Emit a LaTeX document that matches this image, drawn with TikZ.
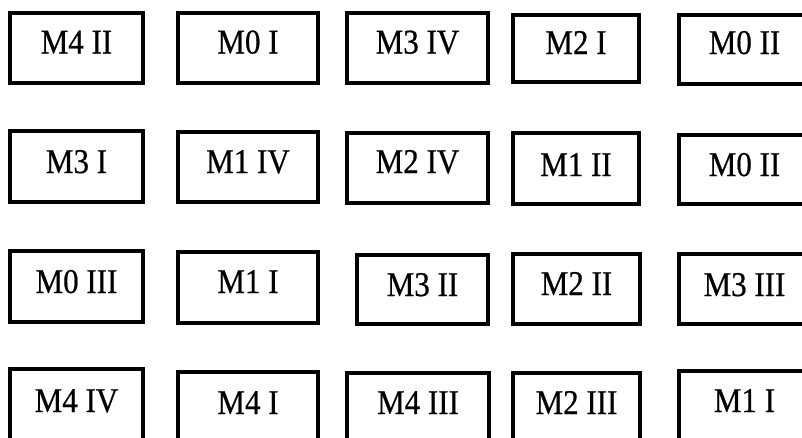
\documentclass[tikz,border=0pt]{standalone}
\usepackage{fontspec}
\setmainfont{Liberation Serif}[FakeBold=0.6]
\tikzset{
  cell/.style={draw=black, line width=3.6pt, rectangle, inner sep=0pt,
    text height=24pt, font=\fontsize{31}{31}\selectfont, align=center}
}
\newcommand\cellbox[7]{%
  \pgfmathsetmacro\cbx{(#2+#4)/2}%
  \pgfmathsetmacro\cby{(#3+#5)/2}%
  \pgfmathsetmacro\cbw{#4-#2-3.6}%
  \pgfmathsetmacro\cbh{#5-#3-3.6}%
  \pgfmathsetmacro\cbd{24-2*(#6-\cby)}%
  \node[cell, minimum width=\cbw pt, minimum height=\cbh pt, text depth=\cbd pt] (#1) at (\cbx,\cby) {\scalebox{1}[1.12]{#7}};%
}
\begin{document}
\begin{tikzpicture}[x=1pt,y=-1pt]
\useasboundingbox (0,0) rectangle (802,437);
\clip (0,0) rectangle (802,437);
% row 1
\cellbox{a1}{8}{11}{145}{85}{53.5}{M4 II}
\cellbox{a2}{176}{11}{320}{85}{53.5}{M0 I}
\cellbox{a3}{345}{11}{490}{85}{53.5}{M3 IV}
\cellbox{a4}{511}{13}{641}{84}{54}{M2 I}
\cellbox{a5}{677}{13}{812}{86}{54}{M0 II}
% row 2
\cellbox{b1}{8}{129}{145}{204}{173}{M3 I}
\cellbox{b2}{176}{130}{320}{204}{173}{M1 IV}
\cellbox{b3}{345}{131}{490}{205}{173}{M2 IV}
\cellbox{b4}{511}{131}{641}{206}{176}{M1 II}
\cellbox{b5}{677}{133}{812}{206}{176}{M0 II}
% row 3
\cellbox{c1}{8}{249}{145}{324}{293}{M0 III}
\cellbox{c2}{176}{250}{320}{325}{293}{M1 I}
\cellbox{c3}{355}{253}{490}{326}{296}{M3 II}
\cellbox{c4}{511}{252}{642}{326}{295}{M2 II}
\cellbox{c5}{677}{252}{812}{326}{296}{M3 III}
% row 4
\cellbox{d1}{8}{367}{145}{445}{412}{M4 IV}
\cellbox{d2}{176}{370}{320}{445}{414}{M4 I}
\cellbox{d3}{345}{371}{491}{445}{414}{M4 III}
\cellbox{d4}{511}{371}{642}{445}{414}{M2 III}
\cellbox{d5}{677}{369}{812}{445}{412}{M1 I}
\end{tikzpicture}
\end{document}
